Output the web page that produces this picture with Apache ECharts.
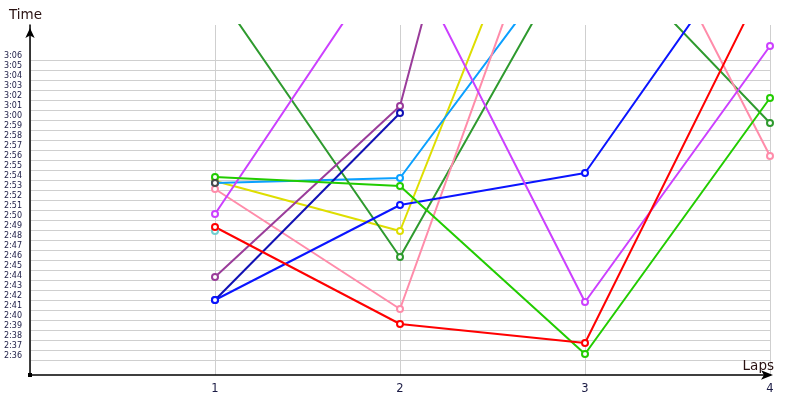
<!DOCTYPE html>
<html>
<head>
<meta charset="utf-8">
<script src="https://cdn.jsdelivr.net/npm/echarts@6/dist/echarts.min.js"></script>
<style>html,body{margin:0;padding:0;background:#fff}#c{width:800px;height:400px}</style>
</head>
<body>
<div id="c"></div>
<script>
// Laps on the x axis
var laps = [1, 2, 3, 4];
// y tick labels (lap time m:ss)
var yTickLabels = ['2:36','2:37','2:38','2:39','2:40','2:41','2:42','2:43','2:44','2:45','2:46','2:47','2:48','2:49','2:50','2:51','2:52','2:53','2:54','2:55','2:56','2:57','2:58','2:59','3:00','3:01','3:02','3:03','3:04','3:05','3:06'];
// lap times in seconds, one array per driver (null = no lap)
var redTimes       = [169.3, 159.6, 157.7, 194.9];
var pinkTimes      = [173.1, 161.1, 212.4, 176.4];
var lightBlueTimes = [173.7, 174.2, 199.0, null];
var yellowTimes    = [173.9, 168.9, 215.5, null];
var darkGreenTimes = [193.1, 166.3, 199.0, 179.7];
var magentaTimes   = [170.6, 198.2, 161.8, 187.4];
var greenTimes     = [174.3, 173.4, 156.6, 182.2];
var purpleTimes    = [164.3, 181.4, 251.0, null];
var navyTimes      = [162.0, 180.7, null, null];
var blueTimes      = [162.0, 171.5, 174.7, 201.0];
var cyanTimes      = [168.9, null, null, null];
var greyTimes      = [173.7, null, null, null];

function toSec(s){ var p = s.split(':'); return (+p[0]) * 60 + (+p[1]); }
function fmt(v){ var m = Math.floor(v / 60), s = Math.round(v - m * 60); return m + ':' + (s < 10 ? '0' : '') + s; }
var yTickValues = yTickLabels.map(toSec);

var seriesDefs = [
  {d: cyanTimes, c: '#70d0d0', line: false},
  {d: yellowTimes, c: '#dede00', line: true},
  {d: lightBlueTimes, c: '#0aa0ff', line: true},
  {d: darkGreenTimes, c: '#2e9a2e', line: true},
  {d: pinkTimes, c: '#ff8caa', line: true},
  {d: purpleTimes, c: '#9a3c9a', line: true},
  {d: navyTimes, c: '#1010b4', line: true},
  {d: blueTimes, c: '#0a14ff', line: true},
  {d: magentaTimes, c: '#cc40ff', line: true},
  {d: greenTimes, c: '#22cc00', line: true},
  {d: redTimes, c: '#ff0000', line: true},
  {d: greyTimes, c: '#4a4a4a', line: false}
];

var series = seriesDefs.map(function (s) {
  return {
    type: 'line',
    data: laps.map(function (l, i) { return [l, s.d[i]]; }),
    connectNulls: false,
    symbol: 'emptyCircle',
    symbolSize: 6,
    showSymbol: true,
    color: s.c,
    lineStyle: {width: s.line ? 2 : 0, color: s.c},
    itemStyle: {color: s.c, borderColor: s.c, borderWidth: 1.3},
    emphasis: {disabled: true},
    animation: false,
    z: 3
  };
});

var chart = echarts.init(document.getElementById('c'), null, {renderer: 'canvas'});
chart.setOption({
  backgroundColor: '#ffffff',
  animation: false,
  grid: {left: 30, right: 30, top: 25, bottom: 25, containLabel: false},
  xAxis: {
    type: 'value', min: 0, max: 4, interval: 1,
    name: 'Laps', nameLocation: 'end', nameGap: 4,
    nameTextStyle: {fontFamily: 'DejaVu Sans', fontSize: 13.5, color: '#2a1212', align: 'right', verticalAlign: 'bottom', padding: [0, 0, 2, 0]},
    axisLine: {show: true, lineStyle: {color: '#000', width: 1.5}, symbol: ['none', 'arrow'], symbolSize: [7, 12], symbolOffset: [0, 3]},
    axisTick: {show: false},
    axisLabel: {fontFamily: 'DejaVu Sans', fontSize: 11.5, color: '#1a1a44', margin: 8, formatter: function (v) { return v === 0 ? '' : String(v); }},
    splitLine: {show: true, lineStyle: {color: '#cfcfcf', width: 1}}
  },
  yAxis: {
    type: 'value', min: 154.5, max: 189.5,
    name: 'Time', nameLocation: 'end', nameGap: 3,
    nameTextStyle: {fontFamily: 'DejaVu Sans', fontSize: 13.5, color: '#2a1212', padding: [0, 9, 0, 0]},
    axisLine: {show: true, lineStyle: {color: '#000', width: 1.5}, symbol: ['none', 'arrow'], symbolSize: [7, 10], symbolOffset: [0, -3]},
    axisTick: {show: false, customValues: yTickValues},
    axisLabel: {customValues: yTickValues, fontFamily: 'DejaVu Sans', fontSize: 8, color: '#1a1a44', margin: 8, verticalAlign: 'bottom', formatter: fmt},
    splitLine: {show: true, lineStyle: {color: '#cfcfcf', width: 1}}
  },
  series: series
});

// small square at the axes origin
var o = chart.convertToPixel({gridIndex: 0}, [0, 154.5]);
chart.setOption({graphic: [{type: 'rect', shape: {x: o[0] - 2, y: o[1] - 2, width: 4, height: 4}, style: {fill: '#000'}, z: 10}]});
</script>
</body>
</html>
